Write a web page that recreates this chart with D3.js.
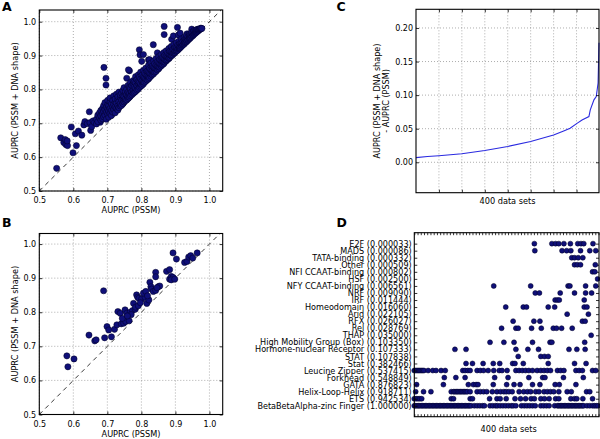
<!DOCTYPE html>
<html><head><meta charset="utf-8">
<script src="https://cdn.jsdelivr.net/npm/d3@7"></script>
<style>
body{margin:0;background:#fff}
svg{display:block}
text{font-family:"DejaVu Sans",sans-serif;fill:#000}
</style>
</head><body>
<svg id="fig" width="600" height="439"></svg>
<script>
// ---------------- DATA ----------------
const scatterTicks = [0.5, 0.6, 0.7, 0.8, 0.9, 1.0];

// Panel A: outlying points [AUPRC PSSM, AUPRC PSSM+shape]
const aOutliers = [
  [0.551,0.567],[0.563,0.657],[0.572,0.643],[0.576,0.652],[0.578,0.637],[0.583,0.634],
  [0.582,0.648],[0.594,0.689],[0.599,0.613],[0.606,0.669],[0.609,0.634],[0.615,0.677],
  [0.625,0.665],[0.631,0.695],[0.634,0.705],[0.641,0.699],[0.647,0.734],[0.649,0.702],
  [0.651,0.679],[0.654,0.690],[0.658,0.707],[0.670,0.705],[0.676,0.706],[0.679,0.703],
  [0.690,0.865],[0.696,0.833],[0.696,0.813],[0.757,0.833],[0.765,0.855],[0.762,0.858],
  [0.794,0.917],[0.796,0.902],[0.801,0.883],[0.806,0.903],[0.821,0.887],[0.824,0.888],
  [0.835,0.932],[0.847,0.908],[0.867,0.986],[0.867,0.962],[0.889,0.948],[0.894,0.958],
  [0.906,0.983],[0.909,0.961],[0.914,0.966],[0.934,0.964],[0.948,0.978],[0.963,0.976]
];
// Panel A: main band, each row = [AUPRC PSSM, AUPRC PSSM+shape values...]
const aBand = [
  [0.662,0.702],[0.668,0.712,0.698],[0.672,0.705,0.724],[0.677,0.716,0.731],
  [0.681,0.709,0.738,0.722],[0.686,0.713,0.744,0.728],[0.689,0.735,0.752,0.719],
  [0.693,0.724,0.741,0.761],[0.697,0.712,0.733,0.748],[0.701,0.727,0.756,0.742,0.768],
  [0.704,0.718,0.736,0.752],[0.708,0.729,0.744,0.763,0.775],[0.712,0.723,0.738,0.757],
  [0.716,0.733,0.749,0.768],[0.719,0.741,0.756,0.781],[0.723,0.731,0.748,0.763,0.772],
  [0.727,0.744,0.759,0.786],[0.731,0.739,0.752,0.771,0.779],[0.734,0.746,0.764,0.792],
  [0.738,0.751,0.758,0.776,0.784],[0.742,0.753,0.769,0.789],[0.746,0.758,0.774,0.781,0.797],
  [0.749,0.763,0.779,0.805],[0.753,0.766,0.772,0.788,0.794],[0.757,0.769,0.784,0.801],
  [0.761,0.773,0.779,0.792,0.812],[0.765,0.777,0.789,0.806],[0.768,0.781,0.797,0.803,0.821],
  [0.772,0.784,0.793,0.811],[0.776,0.788,0.799,0.816,0.826],[0.779,0.791,0.807,0.822],
  [0.783,0.794,0.803,0.819,0.838],[0.787,0.798,0.812,0.829],[0.791,0.801,0.817,0.824,0.843],
  [0.794,0.806,0.821,0.836],[0.798,0.809,0.816,0.831,0.851],[0.802,0.812,0.826,0.842],
  [0.806,0.816,0.822,0.837,0.856],[0.809,0.821,0.834,0.848],[0.813,0.824,0.831,0.845,0.863],
  [0.817,0.828,0.841,0.854],[0.821,0.831,0.838,0.852,0.871],[0.824,0.835,0.848,0.862],
  [0.828,0.839,0.846,0.859,0.878],[0.832,0.843,0.856,0.869],[0.836,0.846,0.852,0.866,0.884],
  [0.839,0.851,0.863,0.876],[0.843,0.853,0.861,0.872,0.891],[0.847,0.858,0.869,0.882],
  [0.851,0.861,0.867,0.879,0.897],[0.854,0.866,0.876,0.888],[0.858,0.869,0.874,0.886,0.903],
  [0.862,0.873,0.883,0.894],[0.866,0.876,0.881,0.892,0.909],[0.869,0.881,0.889,0.901],
  [0.873,0.884,0.887,0.898,0.914],[0.877,0.888,0.896,0.907],[0.881,0.891,0.893,0.904,0.921],
  [0.884,0.895,0.902,0.913],[0.888,0.899,0.901,0.911,0.927],[0.892,0.902,0.908,0.918],
  [0.896,0.906,0.909,0.917,0.933],[0.899,0.909,0.914,0.924],[0.903,0.913,0.916,0.923,0.938],
  [0.907,0.916,0.921,0.931],[0.911,0.920,0.923,0.929,0.943],[0.914,0.923,0.927,0.936],
  [0.918,0.927,0.931,0.938,0.949],[0.922,0.931,0.934,0.942],[0.926,0.934,0.938,0.946,0.954],
  [0.929,0.938,0.941,0.949],[0.933,0.941,0.945,0.953,0.959],[0.937,0.945,0.948,0.956],
  [0.941,0.949,0.952,0.959,0.964],[0.944,0.952,0.955,0.962],[0.948,0.956,0.959,0.966,0.969],
  [0.952,0.959,0.962,0.968],[0.955,0.963,0.966,0.971,0.974],[0.959,0.966,0.969,0.973],
  [0.962,0.969,0.972,0.976],[0.966,0.972,0.975,0.978],[0.969,0.975,0.977],
  [0.972,0.977,0.979],[0.975,0.979,0.981],[0.978,0.980]
];

// Panel B points
const bPoints = [
  [0.581,0.672],[0.584,0.640],[0.602,0.663],[0.646,0.733],[0.663,0.716],[0.667,0.719],
  [0.689,0.863],[0.692,0.725],[0.712,0.728],[0.699,0.758],[0.704,0.748],[0.721,0.750],
  [0.728,0.763],[0.731,0.802],[0.738,0.797],[0.741,0.766],[0.748,0.768],[0.754,0.773],
  [0.752,0.807],[0.757,0.797],[0.764,0.775],[0.767,0.800],[0.774,0.805],[0.782,0.809],
  [0.777,0.826],[0.783,0.815],[0.791,0.819],[0.786,0.851],[0.789,0.844],[0.793,0.841],
  [0.801,0.839],[0.811,0.844],[0.806,0.856],[0.813,0.861],[0.816,0.826],[0.822,0.836],
  [0.825,0.888],[0.828,0.875],[0.830,0.868],[0.835,0.861],[0.842,0.864],[0.850,0.875],
  [0.842,0.917],[0.842,0.904],[0.854,0.877],[0.874,0.920],[0.883,0.925],[0.883,0.897],
  [0.888,0.905],[0.893,0.902],[0.893,0.974],[0.903,0.956],[0.888,0.895],[0.898,0.897],
  [0.927,0.946],[0.934,0.949],[0.939,0.962],[0.945,0.966],[0.951,0.959],[0.964,0.974],
  [0.846,0.872],[0.818,0.848],[0.797,0.828],[0.770,0.793],[0.744,0.782],[0.759,0.789]
];

// Panel C: sorted improvement over 400 data sets (index, delta AUPRC)
const cIndex = [0, 25, 50, 100, 150, 200, 250, 300, 322, 336, 351, 362, 377, 380, 388, 393, 397, 399];
const cDelta = [0.007, 0.0085, 0.0098, 0.0128, 0.0175, 0.0235, 0.031, 0.0405, 0.0466, 0.0506,
                0.058, 0.063, 0.068, 0.078, 0.093, 0.098, 0.118, 0.178];
const cTicks = [0.00, 0.05, 0.10, 0.15, 0.20];

// Panel D: TF families (p-values) and data-set indices where family occurs
const dFamilies = [
  "E2F (0.000033)", "MADS (0.000086)", "TATA-binding (0.000332)", "Other (0.000509)",
  "NFI CCAAT-binding (0.000802)", "HSF (0.002500)", "NFY CCAAT-binding (0.006561)",
  "NRF (0.009090)", "IRF (0.011444)", "Homeodomain (0.016060)", "Arid (0.022105)",
  "RFX (0.026027)", "Rel (0.028769)", "THAP (0.035000)", "High Mobility Group (Box) (0.103350)",
  "Hormone-nuclear Receptor (0.107333)", "STAT (0.107838)", "Stat (0.382466)",
  "Leucine Zipper (0.537415)", "Forkhead (0.548849)", "GATA (0.876823)",
  "Helix-Loop-Helix (0.918711)", "ETS (0.942534)", "BetaBetaAlpha-zinc Finger (1.000000)"
];
const dIndices = [
  [260, 298, 306, 313, 324, 338, 354, 361, 367, 387],
  [261, 320, 330, 339, 360, 380, 393],
  [341, 347, 355, 365],
  [347, 353, 360, 392],
  [386, 391],
  [397],
  [172, 252, 333, 337, 371, 393],
  [262, 271, 316, 347, 371, 384],
  [305, 310, 314, 368],
  [198, 236, 243, 290, 304, 368, 374],
  [331, 377],
  [214, 259, 272, 364, 370],
  [189, 220, 225, 254, 275, 301, 308, 319, 342],
  [383],
  [164, 194, 216, 256, 294, 298, 369],
  [88, 112, 220, 246, 269, 335, 352, 370],
  [225, 274, 282, 290],
  [112, 126, 149, 171, 185, 213, 218, 236, 290, 347, 372],
  [0, 3, 6, 9, 12, 15, 18, 21, 30, 40, 47, 58, 67, 105, 110, 116, 121, 136, 143, 150, 160, 172,
   184, 190, 201, 220, 227, 234, 241, 248, 256, 266, 274, 281, 288, 295, 310, 317, 324, 350,
   357, 364, 386, 393],
  [65, 90, 110, 174, 203, 248, 278, 283, 323, 366],
  [5, 63, 117, 128, 134, 138, 171, 200, 216, 229, 256, 272, 305, 314, 350],
  [3, 20, 36, 80, 85, 88, 91, 94, 97, 100, 103, 106, 109, 112, 115, 121, 136, 143, 150, 157,
   169, 179, 187, 194, 199, 205, 212, 227, 237, 245, 252, 263, 270, 281, 288, 295, 302, 313,
   331, 340, 373, 380],
  [0, 4, 8, 12, 16, 80, 85, 121, 126, 163, 179, 186, 199, 218, 230, 241, 253, 260, 274, 282,
   292, 306, 313, 339, 347, 352, 365, 386],
  [0, 3, 6, 9, 12, 15, 18, 21, 24, 27, 30, 33, 36, 39, 42, 45, 48, 51, 54, 57, 60, 63, 66, 69,
   72, 75, 78, 81, 84, 87, 90, 93, 96, 99, 102, 105, 108, 111, 114, 117, 120, 123, 130, 136,
   142, 148, 152, 164, 170, 176, 180, 186, 192, 198, 204, 210, 214, 220, 232, 238, 244, 250,
   256, 262, 274, 280, 286, 292, 304, 310, 313, 316, 319, 322, 325, 328, 331, 334, 337, 340,
   343, 346, 349, 352, 355, 358, 361, 364, 367, 374, 380, 386, 390, 394, 398]
];

// ---------------- DRAWING ----------------
const svg = d3.select("#fig");
const DOT_FILL = "#0f0f78", DOT_EDGE = "#000022", FS = 8;

function grid(g, x, y, xt, yt, f) {
  g.append("g").selectAll("line").data(xt).join("line")
    .attr("x1", d => x(d)).attr("x2", d => x(d)).attr("y1", f.t).attr("y2", f.b)
    .attr("stroke", "#777").attr("stroke-width", 0.6).attr("stroke-dasharray", "1,2");
  g.append("g").selectAll("line").data(yt).join("line")
    .attr("y1", d => y(d)).attr("y2", d => y(d)).attr("x1", f.l).attr("x2", f.r)
    .attr("stroke", "#777").attr("stroke-width", 0.6).attr("stroke-dasharray", "1,2");
}
function styleAxis(sel) {
  sel.select(".domain").remove();
  sel.selectAll("text").style("font-size", FS + "px").attr("fill", "#000");
  sel.selectAll(".tick line").attr("stroke", "#000").attr("stroke-width", 0.8);
}
function frame(g, f) {
  g.append("rect").attr("x", f.l).attr("y", f.t).attr("width", f.r - f.l).attr("height", f.b - f.t)
    .attr("fill", "none").attr("stroke", "#000").attr("stroke-width", 1.1);
}

function scatterPanel(f, pts, yTop, letter, letterY) {
  const g = svg.append("g");
  const x = d3.scaleLinear().domain([0.5, 1.039]).range([f.l, f.r]);
  const y = d3.scaleLinear().domain([0.5, yTop]).range([f.b, f.t]);
  grid(g, x, y, scatterTicks, scatterTicks, f);
  const m = Math.min(1.039, yTop);
  g.append("line").attr("x1", x(0.5)).attr("y1", y(0.5)).attr("x2", x(m)).attr("y2", y(m))
    .attr("stroke", "#222").attr("stroke-width", 0.9).attr("stroke-dasharray", "4.5,4");
  g.append("g").selectAll("circle").data(pts).join("circle")
    .attr("cx", d => x(d[0])).attr("cy", d => y(d[1])).attr("r", 3.1)
    .attr("fill", DOT_FILL).attr("stroke", DOT_EDGE).attr("stroke-width", 0.5);
  g.append("g").attr("transform", `translate(0,${f.b})`)
    .call(d3.axisBottom(x).tickValues(scatterTicks).tickFormat(d3.format(".1f")).tickSizeInner(-3).tickSizeOuter(0).tickPadding(6.8))
    .call(styleAxis);
  g.append("g").attr("transform", `translate(${f.l},0)`)
    .call(d3.axisLeft(y).tickValues(scatterTicks).tickFormat(d3.format(".1f")).tickSizeInner(-3).tickSizeOuter(0).tickPadding(3.2))
    .call(styleAxis);
  g.append("g").attr("transform", `translate(0,${f.t})`)
    .call(d3.axisTop(x).tickValues(scatterTicks).tickFormat("").tickSizeInner(-3).tickSizeOuter(0))
    .call(styleAxis);
  g.append("g").attr("transform", `translate(${f.r},0)`)
    .call(d3.axisRight(y).tickValues(scatterTicks).tickFormat("").tickSizeInner(-3).tickSizeOuter(0))
    .call(styleAxis);
  frame(g, f);
  g.append("text").attr("x", (f.l + f.r) / 2).attr("y", f.b + 22.3).attr("text-anchor", "middle")
    .style("font-size", "8.2px").text("AUPRC (PSSM)");
  g.append("text").attr("transform", `translate(17.5,${(f.t + f.b) / 2}) rotate(-90)`)
    .attr("text-anchor", "middle").style("font-size", "8.2px").text("AUPRC (PSSM + DNA shape)");
  g.append("text").attr("x", 2).attr("y", letterY).style("font-size", "12.5px")
    .style("font-weight", "bold").text(letter);
}

// Panel A
const aPoints = aOutliers.concat(aBand.flatMap(r => r.slice(1).map(v => [r[0], v])));
scatterPanel({l: 39.3, r: 222.7, t: 10, b: 191}, aPoints, 1.0345, "A", 10.5);
// Panel B
scatterPanel({l: 39.3, r: 222.7, t: 233.5, b: 414.5}, bPoints, 1.031, "B", 226.5);

// Panel C
(function () {
  const f = {l: 416, r: 599, t: 9.3, b: 192.7};
  const g = svg.append("g");
  const x = d3.scaleLinear().domain([0, 399]).range([f.l, f.r]);
  const y = d3.scaleLinear().domain([-0.0453, 0.2278]).range([f.b, f.t]);
  const xt = [50, 100, 150, 200, 250, 300, 350];
  grid(g, x, y, xt, cTicks, f);
  const pts = cIndex.map((d, i) => [d, cDelta[i]]);
  g.append("path").datum(pts)
    .attr("d", d3.line().x(d => x(d[0])).y(d => y(d[1])))
    .attr("fill", "none").attr("stroke", "#2a2ae0").attr("stroke-width", 1.1);
  g.append("g").attr("transform", `translate(${f.l},0)`)
    .call(d3.axisLeft(y).tickValues(cTicks).tickFormat(d3.format(".2f")).tickSizeInner(-3).tickSizeOuter(0).tickPadding(3))
    .call(styleAxis);
  g.append("g").attr("transform", `translate(${f.r},0)`)
    .call(d3.axisRight(y).tickValues(cTicks).tickFormat("").tickSizeInner(-3).tickSizeOuter(0))
    .call(styleAxis);
  g.append("g").attr("transform", `translate(0,${f.b})`)
    .call(d3.axisBottom(x).tickValues(xt).tickFormat("").tickSizeInner(-3).tickSizeOuter(0))
    .call(styleAxis);
  g.append("g").attr("transform", `translate(0,${f.t})`)
    .call(d3.axisTop(x).tickValues(xt).tickFormat("").tickSizeInner(-3).tickSizeOuter(0))
    .call(styleAxis);
  frame(g, f);
  g.append("text").attr("x", (f.l + f.r) / 2).attr("y", 204).attr("text-anchor", "middle")
    .style("font-size", "8.2px").text("400 data sets");
  const cy = (f.t + f.b) / 2;
  g.append("text").attr("transform", `translate(379.6,${cy}) rotate(-90)`).attr("text-anchor", "middle")
    .style("font-size", "8.1px").text("AUPRC (PSSM + DNA shape)");
  g.append("text").attr("transform", `translate(388.6,${cy}) rotate(-90)`).attr("text-anchor", "middle")
    .style("font-size", "8.1px").text("- AUPRC (PSSM)");
  g.append("text").attr("x", 336.5).attr("y", 10.5).style("font-size", "12.5px")
    .style("font-weight", "bold").text("C");
})();

// Panel D
(function () {
  const f = {l: 414.3, r: 599, t: 232.7, b: 416.7};
  const g = svg.append("g");
  const x = d3.scaleLinear().domain([0, 400]).range([f.l, f.r]);
  const y = d3.scalePoint().domain(dFamilies).range([f.t, f.b]).padding(1.55);
  const minor = d3.range(0, 401, 7);
  g.append("g").attr("transform", `translate(0,${f.t})`)
    .call(d3.axisTop(x).tickValues(minor).tickFormat("").tickSizeInner(-2.5).tickSizeOuter(0))
    .call(styleAxis);
  g.append("g").attr("transform", `translate(0,${f.b})`)
    .call(d3.axisBottom(x).tickValues(minor).tickFormat("").tickSizeInner(-2.5).tickSizeOuter(0))
    .call(styleAxis);
  g.append("g").attr("transform", `translate(${f.r},0)`)
    .call(d3.axisRight(y).tickFormat("").tickSizeInner(-3).tickSizeOuter(0))
    .call(styleAxis);
  const pts = dFamilies.flatMap((fam, i) => dIndices[i].map(v => [v, fam]));
  g.append("g").selectAll("circle").data(pts).join("circle")
    .attr("cx", d => x(d[0])).attr("cy", d => y(d[1])).attr("r", 2.5)
    .attr("fill", DOT_FILL).attr("stroke", DOT_EDGE).attr("stroke-width", 0.5);
  g.append("g").attr("transform", `translate(${f.l},0)`)
    .call(d3.axisLeft(y).tickSizeInner(-3).tickSizeOuter(0).tickPadding(2.6))
    .call(styleAxis);
  g.selectAll(".tick text").style("font-size", "8.1px");
  frame(g, f);
  g.append("text").attr("x", (f.l + f.r) / 2 + 2).attr("y", 431.5).attr("text-anchor", "middle")
    .style("font-size", "8.2px").text("400 data sets");
  g.append("text").attr("x", 336.5).attr("y", 227).style("font-size", "12.5px")
    .style("font-weight", "bold").text("D");
})();
</script>
</body></html>
